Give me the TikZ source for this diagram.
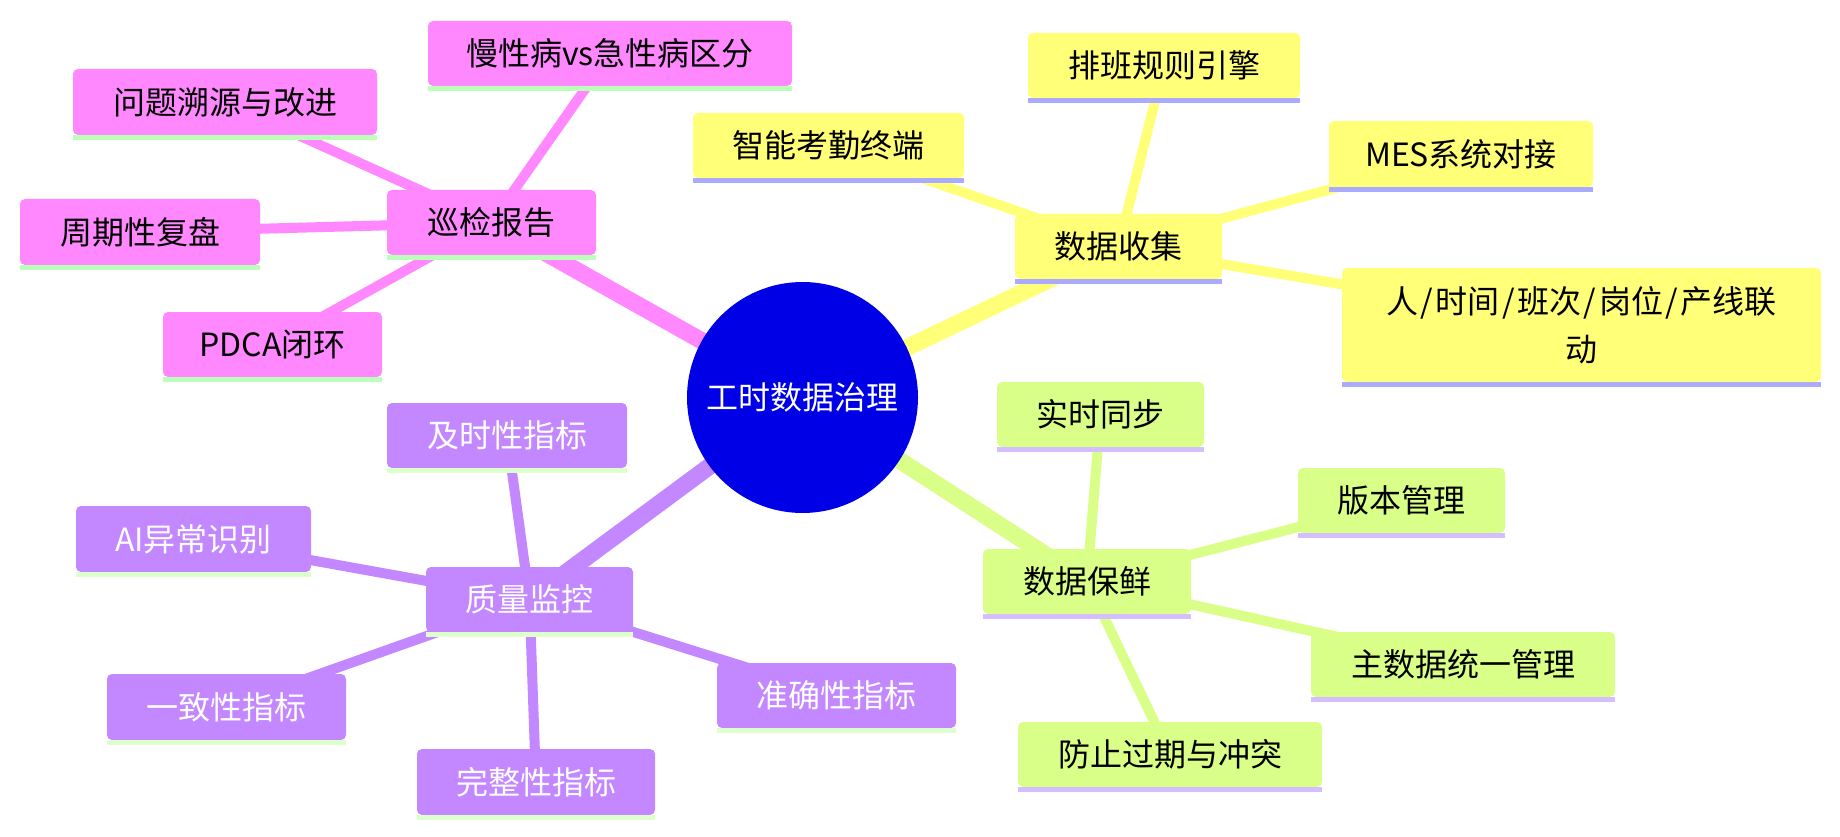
\documentclass[tikz,border=0pt]{standalone}
\usepackage{fontspec}
\newfontfamily\cjk{Noto Sans CJK SC}
\usetikzlibrary{backgrounds}
\definecolor{pinkF}{RGB}{255,136,255}
\definecolor{pinkU}{RGB}{187,255,187}
\definecolor{yelF}{RGB}{255,255,120}
\definecolor{yelU}{RGB}{170,170,255}
\definecolor{limeF}{RGB}{217,255,136}
\definecolor{limeU}{RGB}{212,190,255}
\definecolor{purF}{RGB}{195,136,255}
\definecolor{purU}{RGB}{221,255,204}
\definecolor{rootF}{RGB}{0,0,230}
\newcommand{\myslash}{\kern2.5pt/\kern2.5pt}
\begin{document}
\begin{tikzpicture}[x=1pt,y=-1pt,
  box/.style={rectangle, rounded corners=5pt, inner sep=0pt, align=center,
    font=\cjk\fontsize{32}{48}\selectfont},
  pinkbox/.style={box, fill=pinkF, text=black},
  yelbox/.style={box, fill=yelF, text=black},
  limebox/.style={box, fill=limeF, text=black},
  purbox/.style={box, fill=purF, text=white},
  rootnode/.style={circle, fill=rootF, text=white, inner sep=0pt,
    minimum size=231pt, font=\cjk\fontsize{32}{48}\selectfont},
  mainedge/.style={line width=17pt},
  subedge/.style={line width=10pt}
]
\useasboundingbox (0,0) rectangle (1840,837);

\node[rootnode] (R) at (802.5,397.5) {工时数据治理};

% pink branch
\node[pinkbox, minimum width=209pt, minimum height=65pt] (A) at (491.5,222.5) {巡检报告};
\node[pinkbox, minimum width=364pt, minimum height=65pt] (A1) at (610,53.5) {慢性病vs急性病区分};
\node[pinkbox, minimum width=304pt, minimum height=66pt] (A2) at (225,102) {问题溯源与改进};
\node[pinkbox, minimum width=240pt, minimum height=66pt] (A3) at (140,232) {周期性复盘};
\node[pinkbox, minimum width=219pt, minimum height=65pt] (A4) at (272.5,344.5) {PDCA闭环};

% yellow branch
\node[yelbox, minimum width=207pt, minimum height=65pt] (B) at (1118.5,246.5) {数据收集};
\node[yelbox, minimum width=271pt, minimum height=65pt] (B1) at (828.5,145.5) {智能考勤终端};
\node[yelbox, minimum width=272pt, minimum height=65pt] (B2) at (1164,65.5) {排班规则引擎};
\node[yelbox, minimum width=264pt, minimum height=66pt] (B3) at (1461,154) {MES系统对接};
\node[yelbox, minimum width=479pt, minimum height=114pt] (B4) at (1581.5,325) {人\myslash 时间\myslash 班次\myslash 岗位\myslash 产线联\\动};

% lime branch
\node[limebox, minimum width=208pt, minimum height=65pt] (C) at (1087,581.5) {数据保鲜};
\node[limebox, minimum width=207pt, minimum height=65pt] (C1) at (1100.5,414.5) {实时同步};
\node[limebox, minimum width=207pt, minimum height=65pt] (C2) at (1401.5,500.5) {版本管理};
\node[limebox, minimum width=304pt, minimum height=65pt] (C3) at (1463,664.5) {主数据统一管理};
\node[limebox, minimum width=304pt, minimum height=65pt] (C4) at (1170,754.5) {防止过期与冲突};

% purple branch
\node[purbox, minimum width=207pt, minimum height=65pt] (D) at (529.5,599.5) {质量监控};
\node[purbox, minimum width=240pt, minimum height=65pt] (D1) at (507,435.5) {及时性指标};
\node[purbox, minimum width=235pt, minimum height=66pt] (D2) at (193.5,539) {AI异常识别};
\node[purbox, minimum width=239pt, minimum height=66pt] (D3) at (226.5,707) {一致性指标};
\node[purbox, minimum width=238pt, minimum height=66pt] (D4) at (536,782) {完整性指标};
\node[purbox, minimum width=239pt, minimum height=65pt] (D5) at (836.5,695.5) {准确性指标};

% underlines
\foreach \n in {A,A1,A2,A3,A4}
  \fill[pinkU] (\n.south west) rectangle ([yshift=-5pt]\n.south east);
\foreach \n in {B,B1,B2,B3,B4}
  \fill[yelU] (\n.south west) rectangle ([yshift=-5pt]\n.south east);
\foreach \n in {C,C1,C2,C3,C4}
  \fill[limeU] (\n.south west) rectangle ([yshift=-5pt]\n.south east);
\foreach \n in {D,D1,D2,D3,D4,D5}
  \fill[purU] (\n.south west) rectangle ([yshift=-5pt]\n.south east);

% connectors
\begin{scope}[on background layer]
  \draw[pinkF, mainedge] (R.center) -- (A.center);
  \draw[yelF, mainedge] (R.center) -- (B.center);
  \draw[limeF, mainedge] (R.center) -- (C.center);
  \draw[purF, mainedge] (R.center) -- (D.center);
  \foreach \n in {A1,A2,A3,A4} \draw[pinkF, subedge] (A.center) -- (\n.center);
  \foreach \n in {B1,B2,B3,B4} \draw[yelF, subedge] (B.center) -- (\n.center);
  \foreach \n in {C1,C2,C3,C4} \draw[limeF, subedge] (C.center) -- (\n.center);
  \foreach \n in {D1,D2,D3,D4,D5} \draw[purF, subedge] (D.center) -- (\n.center);
\end{scope}
\end{tikzpicture}
\end{document}
